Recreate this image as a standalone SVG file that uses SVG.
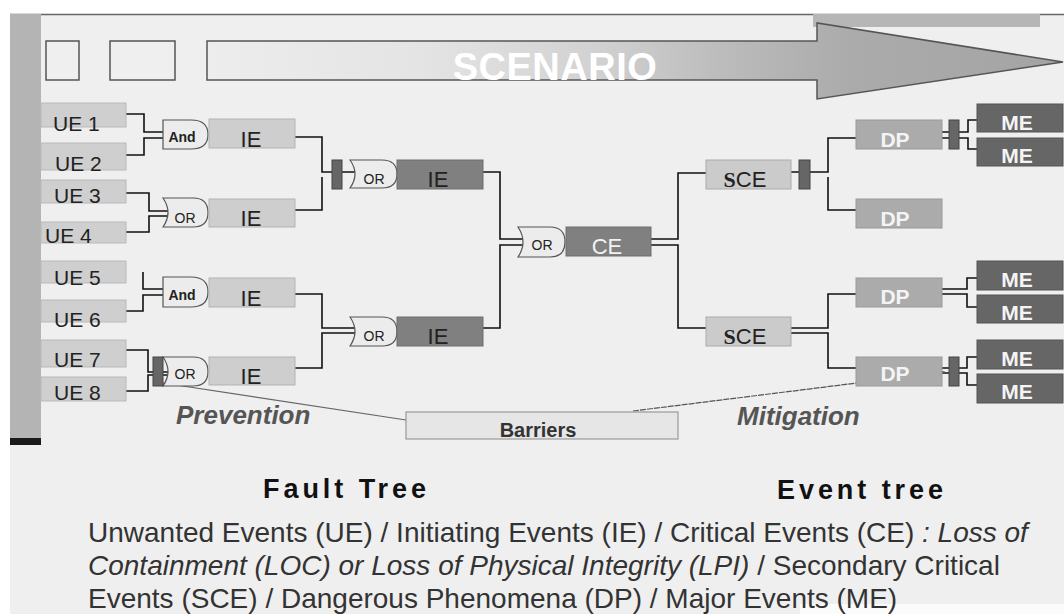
<svg xmlns="http://www.w3.org/2000/svg" width="1064" height="614" viewBox="0 0 1064 614">
  <defs>
    <linearGradient id="arrowFill" gradientUnits="userSpaceOnUse" x1="207" y1="0" x2="1063" y2="0">
      <stop offset="0" stop-color="#ededed"/>
      <stop offset="0.25" stop-color="#e4e4e4"/>
      <stop offset="0.45" stop-color="#d2d2d2"/>
      <stop offset="0.6" stop-color="#bcbcbc"/>
      <stop offset="0.75" stop-color="#ababab"/>
      <stop offset="1" stop-color="#a4a4a4"/>
    </linearGradient>
    <marker id="tip" viewBox="0 0 10 10" refX="9" refY="5" markerWidth="6" markerHeight="6" orient="auto">
      <path d="M0,1 L10,5 L0,9 Z" fill="#555"/>
    </marker>
    <style>
      .lbl { font-family: "Liberation Sans", Arial, sans-serif; }
      .ue { fill: #cfcfcf; stroke: #b9b9b9; stroke-width: 1; }
      .ie { fill: #cecece; stroke: #b3b3b3; stroke-width: 1; }
      .ied { fill: #808080; stroke: #6e6e6e; stroke-width: 1; }
      .sce { fill: #cbcbcb; stroke: #ababab; stroke-width: 1; }
      .dp { fill: #ababab; stroke: #999; stroke-width: 1; }
      .me { fill: #666; stroke: #555; stroke-width: 1; }
      .bar { fill: #666; stroke: #444; stroke-width: 1; }
      .gate { fill: #ececec; stroke: #555; stroke-width: 1.2; }
      .wire { fill: none; stroke: #111; stroke-width: 1.6; }
      .ueT { font-size: 21px; fill: #222; }
      .boxT { font-size: 22px; fill: #222; text-anchor: middle; }
      .lightT { font-size: 21px; fill: #f4f4f4; text-anchor: middle; font-weight: bold; }
      .gateT { font-size: 14px; fill: #222; text-anchor: middle; }
      .phase { font-size: 26px; fill: #555; font-style: italic; font-weight: bold; }
      .body { font-size: 28px; fill: #333; }
      .head { font-size: 27px; fill: #111; font-weight: bold; }
    </style>
  </defs>

  <!-- page -->
  <rect x="0" y="0" width="1064" height="614" fill="#ffffff"/>
  <rect x="10" y="14" width="1054" height="600" fill="#efefef"/>
  <rect x="800" y="604" width="264" height="10" fill="#fbfbfb"/>
  <line x1="10" y1="14.5" x2="1064" y2="14.5" stroke="#666" stroke-width="1.5"/>
  <rect x="10" y="14" width="31" height="431" fill="#b4b4b4"/>
  <rect x="10" y="438" width="31" height="7" fill="#1a1a1a"/>

  <!-- scenario banner -->
  <g id="scenario">
    <rect x="813" y="14" width="227" height="13" fill="#b6b6b6"/>
    <rect x="46" y="41" width="33" height="39" fill="#efefef" stroke="#555" stroke-width="1.5"/>
    <rect x="110" y="41" width="65" height="39" fill="#efefef" stroke="#555" stroke-width="1.5"/>
    <polygon points="207,41 817,41 817,23 1063,62 817,99 817,80 207,80" fill="url(#arrowFill)" stroke="#555" stroke-width="1.5"/>
    <text class="lbl" x="555" y="80" text-anchor="middle" font-size="38" font-weight="bold" fill="#ffffff" letter-spacing="0.5">SCENARIO</text>
  </g>

  <!-- connectors -->
  <g id="connectors">
    <path class="wire" d="M126,114 H144 V132 H164"/>
    <path class="wire" d="M126,155 H144 V138 H164"/>
    <path class="wire" d="M126,193 H149 V211 H169"/>
    <path class="wire" d="M126,232 H149 V216 H169"/>
    <path class="wire" d="M143,272 V289 H164"/>
    <path class="wire" d="M126,311 H143 V295 H164"/>
    <path class="wire" d="M126,350 H148 V372 H168"/>
    <path class="wire" d="M126,391 H148 V375 H168"/>
    <path class="wire" d="M295,137 H322 V172 H356"/>
    <path class="wire" d="M295,210 H322 V177"/>
    <path class="wire" d="M295,294 H322 V328 H356"/>
    <path class="wire" d="M295,368 H322 V333 H356"/>
    <path class="wire" d="M483,172 H500 V239 H525"/>
    <path class="wire" d="M483,328 H500 V245 H525"/>
    <path class="wire" d="M651,239 H678 V173 H706"/>
    <path class="wire" d="M651,245 H678 V328 H706"/>
    <path class="wire" d="M791,172 H810 H828 V138 H856"/>
    <path class="wire" d="M828,177 V210 H856"/>
    <path class="wire" d="M791,328 H828 V294 H856"/>
    <path class="wire" d="M791,333 H828 V368 H856"/>
    <path class="wire" d="M942,132 H968 V120 H977"/>
    <path class="wire" d="M942,138 H968 V149 H977" stroke-width="2.2"/>
    <path class="wire" d="M942,289 H967 V278 H977"/>
    <path class="wire" d="M942,294 H967 V307 H977"/>
    <path class="wire" d="M942,368 H967 V357 H977"/>
    <path class="wire" d="M942,373 H967 V385 H977"/>
    <line x1="163" y1="383" x2="406" y2="420" stroke="#666" stroke-width="1.2"/>
    <line x1="633" y1="411" x2="945" y2="372" stroke="#555" stroke-width="1.2" stroke-dasharray="6 1" marker-end="url(#tip)"/>
  </g>

  <!-- unwanted events -->
  <g id="ue1"><rect class="ue" x="41" y="103" width="85" height="24"/><text class="lbl ueT" x="53" y="131">UE 1</text></g>
  <g id="ue2"><rect class="ue" x="41" y="143" width="85" height="27"/><text class="lbl ueT" x="55" y="171">UE 2</text></g>
  <g id="ue3"><rect class="ue" x="41" y="180" width="85" height="23"/><text class="lbl ueT" x="54" y="203">UE 3</text></g>
  <g id="ue4"><rect class="ue" x="41" y="222" width="85" height="21"/><text class="lbl ueT" x="45" y="243">UE 4</text></g>
  <g id="ue5"><rect class="ue" x="41" y="261" width="85" height="22"/><text class="lbl ueT" x="54" y="285">UE 5</text></g>
  <g id="ue6"><rect class="ue" x="41" y="300" width="85" height="22"/><text class="lbl ueT" x="54" y="327">UE 6</text></g>
  <g id="ue7"><rect class="ue" x="41" y="340" width="85" height="27"/><text class="lbl ueT" x="54" y="367">UE 7</text></g>
  <g id="ue8"><rect class="ue" x="41" y="377" width="85" height="24"/><text class="lbl ueT" x="54" y="400">UE 8</text></g>

  <!-- gates -->
  <g id="and1"><path class="gate" d="M163,120 H191 Q208,120 208,134.5 Q208,149 191,149 H163 Z"/><text class="lbl gateT" x="182" y="142" font-weight="bold" font-size="15">And</text></g>
  <g id="or1"><path class="gate" d="M163,198 H193 Q208,198 208,212.5 Q208,227 193,227 H163 Q173,212.5 163,198 Z"/><text class="lbl gateT" x="185" y="223">OR</text></g>
  <g id="and2"><path class="gate" d="M163,277 H191 Q208,277 208,292 Q208,307 191,307 H163 Z"/><text class="lbl gateT" x="182" y="300" font-weight="bold" font-size="15">And</text></g>
  <g id="or5"><path class="gate" d="M163,357 H193 Q208,357 208,371.5 Q208,386 193,386 H163 Q173,371.5 163,357 Z"/><text class="lbl gateT" x="185" y="379">OR</text></g>
  <g id="barrierFT2"><rect class="bar" x="153" y="357" width="10" height="29"/></g>
  <g id="barrierFT1"><rect class="bar" x="332" y="160" width="10" height="29"/></g>
  <g id="or2"><path class="gate" d="M350,160 H382 Q397,160 397,174 Q397,188 382,188 H350 Q360,174 350,160 Z"/><text class="lbl gateT" x="374" y="184">OR</text></g>
  <g id="or3"><path class="gate" d="M350,317 H382 Q397,317 397,331.5 Q397,346 382,346 H350 Q360,331.5 350,317 Z"/><text class="lbl gateT" x="374" y="341">OR</text></g>
  <g id="or4"><path class="gate" d="M518,227 H550 Q565,227 565,242 Q565,257 550,257 H518 Q528,242 518,227 Z"/><text class="lbl gateT" x="542" y="250">OR</text></g>

  <!-- initiating events -->
  <g id="ie1"><rect class="ie" x="209" y="119" width="86" height="29"/><text class="lbl boxT" x="251" y="147">IE</text></g>
  <g id="ie2"><rect class="ie" x="209" y="199" width="86" height="28"/><text class="lbl boxT" x="251" y="226">IE</text></g>
  <g id="ie3"><rect class="ie" x="209" y="278" width="86" height="29"/><text class="lbl boxT" x="251" y="306">IE</text></g>
  <g id="ie4"><rect class="ie" x="209" y="357" width="86" height="28"/><text class="lbl boxT" x="251" y="384">IE</text></g>
  <g id="ie5"><rect class="ied" x="397" y="160" width="86" height="29"/><text class="lbl boxT" x="438" y="187">IE</text></g>
  <g id="ie6"><rect class="ied" x="397" y="317" width="86" height="29"/><text class="lbl boxT" x="438" y="344">IE</text></g>

  <!-- critical event -->
  <g id="ce"><rect class="ied" x="566" y="227" width="85" height="29"/><text class="lbl boxT" x="607" y="254" style="fill:#f2f2f2">CE</text></g>

  <!-- secondary critical events -->
  <g id="sce1"><rect class="sce" x="706" y="160" width="85" height="29"/><text class="lbl boxT" x="745" y="187" font-size="20"><tspan font-family="'Liberation Serif', serif" font-weight="bold">S</tspan>CE</text></g>
  <g id="sce2"><rect class="sce" x="706" y="317" width="85" height="29"/><text class="lbl boxT" x="745" y="344" font-size="20"><tspan font-family="'Liberation Serif', serif" font-weight="bold">S</tspan>CE</text></g>
  <g id="barrierET1"><rect class="bar" x="799" y="160" width="11" height="29"/></g>

  <!-- dangerous phenomena -->
  <g id="dp1"><rect class="dp" x="856" y="120" width="86" height="29"/><text class="lbl lightT" x="895" y="147">DP</text></g>
  <g id="dp2"><rect class="dp" x="856" y="199" width="86" height="29"/><text class="lbl lightT" x="895" y="226">DP</text></g>
  <g id="dp3"><rect class="dp" x="856" y="278" width="86" height="29"/><text class="lbl lightT" x="895" y="304">DP</text></g>
  <g id="dp4"><rect class="dp" x="856" y="357" width="86" height="29"/><text class="lbl lightT" x="895" y="381">DP</text></g>
  <g id="barrierET2"><rect class="bar" x="949" y="120" width="10" height="29"/></g>
  <g id="barrierET3"><rect class="bar" x="949" y="357" width="10" height="29"/></g>

  <!-- major events -->
  <g id="me1"><rect class="me" x="977" y="104" width="86" height="28"/><text class="lbl lightT" x="1017" y="130" font-size="20">ME</text></g>
  <g id="me2"><rect class="me" x="977" y="138" width="86" height="28"/><text class="lbl lightT" x="1017" y="163" font-size="20">ME</text></g>
  <g id="me3"><rect class="me" x="977" y="261" width="86" height="29"/><text class="lbl lightT" x="1017" y="287" font-size="20">ME</text></g>
  <g id="me4"><rect class="me" x="977" y="295" width="86" height="28"/><text class="lbl lightT" x="1017" y="320" font-size="20">ME</text></g>
  <g id="me5"><rect class="me" x="977" y="340" width="86" height="29"/><text class="lbl lightT" x="1017" y="366" font-size="20">ME</text></g>
  <g id="me6"><rect class="me" x="977" y="374" width="86" height="29"/><text class="lbl lightT" x="1017" y="399" font-size="20">ME</text></g>

  <!-- barriers -->
  <g id="barriers">
    <rect x="406" y="412" width="272" height="27" fill="#e6e6e6" stroke="#999" stroke-width="1.2"/>
    <text class="lbl" x="538" y="437" text-anchor="middle" font-size="20" font-weight="bold" fill="#333">Barriers</text>
  </g>

  <!-- phase labels -->
  <text class="lbl phase" x="176" y="424">Prevention</text>
  <text class="lbl phase" x="737" y="425">Mitigation</text>
  <text class="lbl head" x="263" y="498" textLength="163" lengthAdjust="spacing">Fault  Tree</text>
  <text class="lbl head" x="777" y="499" textLength="166" lengthAdjust="spacing">Event  tree</text>

  <!-- legend -->
  <text class="lbl body" x="88" y="542">Unwanted Events (UE) / Initiating Events (IE) / Critical Events (CE) <tspan font-style="italic">: Loss of</tspan></text>
  <text class="lbl body" x="88" y="575"><tspan font-style="italic">Containment (LOC) or Loss of Physical Integrity (LPI)</tspan> / Secondary Critical</text>
  <text class="lbl body" x="88" y="608">Events (SCE) / Dangerous Phenomena (DP) / Major Events (ME)</text>
</svg>
